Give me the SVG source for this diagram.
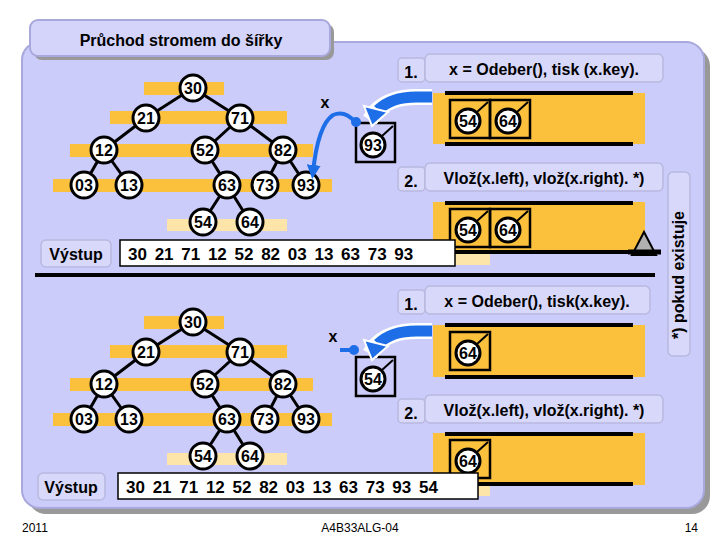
<svg xmlns="http://www.w3.org/2000/svg" width="720" height="540" viewBox="0 0 720 540">
<style>
.n circle{fill:#fff;stroke:#000;stroke-width:3}
.n text{font-family:"Liberation Sans Narrow","Liberation Sans",sans-serif;font-weight:bold;text-anchor:middle;font-size:16px}
.bar{fill:#fbc03c}
.bar2{fill:#fde4a8}
.e{stroke:#000;stroke-width:3}
.lbl{fill:#d8d8fb;stroke:#b8b8e0;stroke-width:1.5}
.lt{font-family:"Liberation Sans",Arial,sans-serif;font-weight:bold;font-size:16px}
.ql{stroke:#000;stroke-width:4}
.qb{fill:none;stroke:#000;stroke-width:2.5}
.tk{stroke:#000;stroke-width:2}
.out{fill:#fff;stroke:#000;stroke-width:1.5}
.ot{font-family:"Liberation Sans Narrow","Liberation Sans",sans-serif;font-weight:bold;font-size:17px;word-spacing:3px}
.blue{fill:none;stroke:#1e6ee8;stroke-width:4}
.foot{font-family:"Liberation Sans",Arial,sans-serif;font-size:12px}
</style>
<defs>
<marker id="ah" markerWidth="14" markerHeight="14" refX="7" refY="7" orient="auto" markerUnits="userSpaceOnUse"><path d="M0,0 L14,7 L0,14 z" fill="#1e6ee8"/></marker>
<g id="tree">
<rect class="bar" x="144" y="82" width="80" height="13"/>
<rect class="bar" x="110" y="111" width="177" height="13"/>
<rect class="bar" x="70" y="144" width="243" height="13"/>
<rect class="bar" x="53" y="179" width="279" height="13"/>
<rect class="bar2" x="167" y="219" width="120" height="12"/>
<g class="e"><line x1="193" y1="88" x2="146" y2="118"/><line x1="193" y1="88" x2="240" y2="118"/><line x1="146" y1="118" x2="104" y2="150"/><line x1="240" y1="118" x2="205" y2="150"/><line x1="240" y1="118" x2="283" y2="150"/><line x1="104" y1="150" x2="84" y2="185"/><line x1="104" y1="150" x2="129" y2="185"/><line x1="205" y1="150" x2="227" y2="185"/><line x1="283" y1="150" x2="265" y2="185"/><line x1="283" y1="150" x2="306" y2="185"/><line x1="227" y1="185" x2="203" y2="222"/><line x1="227" y1="185" x2="250" y2="222"/></g>
</g>
</defs>
<rect x="28" y="48" width="682" height="466" rx="18" fill="#999"/>
<rect x="22" y="42" width="682" height="466" rx="18" fill="#ccccfa" stroke="#a8a8dd" stroke-width="2"/>
<rect x="34" y="24" width="300" height="36" rx="8" fill="#999"/>
<rect x="30" y="20" width="300" height="36" rx="8" fill="#d4d4fb" stroke="#a8a8dd" stroke-width="2"/>
<text class="lt" x="181" y="46" text-anchor="middle" font-size="20">Průchod stromem do šířky</text>

<g id="tree-top"><use href="#tree"/></g>
<g id="tree-bottom" transform="translate(0,234)"><use href="#tree"/></g>
<g id="nodes">
<g class="n" id="n-top">
<circle cx="193" cy="88" r="13"/><text x="193" y="94">30</text>
<circle cx="146" cy="118" r="13"/><text x="146" y="124">21</text>
<circle cx="240" cy="118" r="13"/><text x="240" y="124">71</text>
<circle cx="104" cy="150" r="13"/><text x="104" y="156">12</text>
<circle cx="205" cy="150" r="13"/><text x="205" y="156">52</text>
<circle cx="283" cy="150" r="13"/><text x="283" y="156">82</text>
<circle cx="84" cy="185" r="13"/><text x="84" y="191">03</text>
<circle cx="129" cy="185" r="13"/><text x="129" y="191">13</text>
<circle cx="227" cy="185" r="13"/><text x="227" y="191">63</text>
<circle cx="265" cy="185" r="13"/><text x="265" y="191">73</text>
<circle cx="306" cy="185" r="13"/><text x="306" y="191">93</text>
<circle cx="203" cy="222" r="13"/><text x="203" y="228">54</text>
<circle cx="250" cy="222" r="13"/><text x="250" y="228">64</text>
</g>
<g class="n" id="n-bottom" transform="translate(0,234)">
<circle cx="193" cy="88" r="13"/><text x="193" y="94">30</text>
<circle cx="146" cy="118" r="13"/><text x="146" y="124">21</text>
<circle cx="240" cy="118" r="13"/><text x="240" y="124">71</text>
<circle cx="104" cy="150" r="13"/><text x="104" y="156">12</text>
<circle cx="205" cy="150" r="13"/><text x="205" y="156">52</text>
<circle cx="283" cy="150" r="13"/><text x="283" y="156">82</text>
<circle cx="84" cy="185" r="13"/><text x="84" y="191">03</text>
<circle cx="129" cy="185" r="13"/><text x="129" y="191">13</text>
<circle cx="227" cy="185" r="13"/><text x="227" y="191">63</text>
<circle cx="265" cy="185" r="13"/><text x="265" y="191">73</text>
<circle cx="306" cy="185" r="13"/><text x="306" y="191">93</text>
<circle cx="203" cy="222" r="13"/><text x="203" y="228">54</text>
<circle cx="250" cy="222" r="13"/><text x="250" y="228">64</text>
</g>
</g>

<g id="queues">
<rect class="bar" x="433" y="93" width="212" height="51"/>
<line class="ql" x1="445" y1="93" x2="633" y2="93"/><line class="ql" x1="445" y1="144" x2="633" y2="144"/>
<rect class="bar" x="433" y="202" width="212" height="50"/>
<rect class="bar2" x="445" y="252" width="45" height="13"/>
<line class="ql" x1="445" y1="203" x2="633" y2="203"/><line class="ql" x1="445" y1="252" x2="660" y2="252"/>
<path d="M632,255 L644,232 L656,255 Z" fill="#b0b0b0" stroke="#000" stroke-width="2"/>
<line x1="628" y1="252" x2="661" y2="252" stroke="#000" stroke-width="5"/>
<rect class="bar" x="433" y="325" width="212" height="52"/>
<line class="ql" x1="445" y1="325" x2="633" y2="325"/><line class="ql" x1="445" y1="377" x2="633" y2="377"/>
<rect class="bar" x="433" y="433" width="212" height="52"/>
<rect class="bar2" x="450" y="484" width="40" height="12"/>
<line class="ql" x1="445" y1="434" x2="633" y2="434"/><line class="ql" x1="445" y1="484" x2="633" y2="484"/>
<line x1="35" y1="275" x2="655" y2="275" stroke="#000" stroke-width="4"/>
</g>

<g id="queue-items" class="n">
<rect class="qb" x="450" y="100" width="40" height="38"/><circle cx="468" cy="121" r="12"/><line class="tk" x1="477" y1="112" x2="488" y2="102"/><text x="468" y="127">54</text>
<rect class="qb" x="490" y="100" width="40" height="38"/><circle cx="508" cy="121" r="12"/><line class="tk" x1="517" y1="112" x2="528" y2="102"/><text x="508" y="127">64</text>
<rect class="qb" x="450" y="209" width="40" height="38"/><circle cx="468" cy="230" r="12"/><line class="tk" x1="477" y1="221" x2="488" y2="211"/><text x="468" y="236">54</text>
<rect class="qb" x="490" y="209" width="40" height="38"/><circle cx="508" cy="230" r="12"/><line class="tk" x1="517" y1="221" x2="528" y2="211"/><text x="508" y="236">64</text>
<rect class="qb" x="450" y="332" width="40" height="38"/><circle cx="468" cy="353" r="12"/><line class="tk" x1="477" y1="344" x2="488" y2="334"/><text x="468" y="359">64</text>
<rect class="qb" x="450" y="440" width="40" height="38"/><circle cx="468" cy="461" r="12"/><line class="tk" x1="477" y1="452" x2="488" y2="442"/><text x="468" y="467">64</text>
</g>

<g id="x-nodes" class="n">
<rect class="qb" x="356" y="123" width="39" height="39"/><circle cx="373" cy="145" r="12"/><line class="tk" x1="382" y1="136" x2="393" y2="126"/><text x="373" y="151">93</text>
<rect class="qb" x="356" y="357" width="39" height="39"/><circle cx="373" cy="379" r="12"/><line class="tk" x1="382" y1="370" x2="393" y2="360"/><text x="373" y="385">54</text>
</g>

<g id="connectors">
<path d="M432,97 L420,97 Q390,96 375,112 L370,120" fill="none" stroke="#fff" stroke-width="16"/>
<path d="M432,97 L420,97 Q392,96 378,110" fill="none" stroke="#1e6ee8" stroke-width="11"/>
<path d="M364,106 L372,126 L388,112 Z" fill="#1e6ee8" stroke="#fff" stroke-width="2"/>
<path d="M355,122 Q345,110 333,115 Q318,125 313,172" class="blue" marker-end="url(#ah)"/>
<circle cx="356" cy="122" r="5" fill="#1e6ee8"/>
<text class="lt" x="325" y="108" text-anchor="middle">x</text>
<path d="M432,331 L420,331 Q390,330 375,346 L370,354" fill="none" stroke="#fff" stroke-width="16"/>
<path d="M432,331 L420,331 Q392,330 378,344" fill="none" stroke="#1e6ee8" stroke-width="11"/>
<path d="M364,340 L372,360 L388,346 Z" fill="#1e6ee8" stroke="#fff" stroke-width="2"/>
<line x1="340" y1="350" x2="353" y2="350" class="blue"/>
<circle cx="354" cy="350" r="5" fill="#1e6ee8"/>
<text class="lt" x="333" y="342" text-anchor="middle">x</text>
</g>

<g id="labels">
<rect class="lbl" x="398" y="58" width="27" height="24" rx="4"/><text class="lt" x="411" y="78" text-anchor="middle">1.</text>
<rect class="lbl" x="425" y="54" width="238" height="28" rx="5"/><text class="lt" x="544" y="75" text-anchor="middle">x = Odeber(), tisk (x.key).</text>
<rect class="lbl" x="398" y="167" width="27" height="24" rx="4"/><text class="lt" x="411" y="187" text-anchor="middle">2.</text>
<rect class="lbl" x="425" y="163" width="238" height="28" rx="5"/><text class="lt" x="544" y="184" text-anchor="middle">Vlož(x.left), vlož(x.right). *)</text>
<rect class="lbl" x="398" y="290" width="27" height="24" rx="4"/><text class="lt" x="411" y="310" text-anchor="middle">1.</text>
<rect class="lbl" x="425" y="286" width="225" height="28" rx="5"/><text class="lt" x="537" y="307" text-anchor="middle">x = Odeber(), tisk(x.key).</text>
<rect class="lbl" x="398" y="399" width="27" height="24" rx="4"/><text class="lt" x="411" y="419" text-anchor="middle">2.</text>
<rect class="lbl" x="425" y="395" width="238" height="28" rx="5"/><text class="lt" x="544" y="416" text-anchor="middle">Vlož(x.left), vlož(x.right). *)</text>
<rect class="lbl" x="668" y="172" width="22" height="184" rx="5"/>
<text class="lt" font-size="13" text-anchor="middle" transform="translate(684,275) rotate(-90)">*) pokud existuje</text>
</g>

<g id="output">
<rect class="lbl" x="41" y="240" width="70" height="27" rx="5"/><text class="lt" x="76" y="260" text-anchor="middle" font-size="17">Výstup</text>
<rect class="out" x="120" y="240" width="335" height="26"/>
<text class="ot" x="128" y="260">30 21 71 12 52 82 03 13 63 73 93</text>
<rect class="lbl" x="38" y="473" width="67" height="27" rx="5"/><text class="lt" x="71" y="493" text-anchor="middle" font-size="17">Výstup</text>
<rect class="out" x="118" y="473" width="360" height="26"/>
<text class="ot" x="126" y="493">30 21 71 12 52 82 03 13 63 73 93 54</text>
</g>
<text class="foot" x="22" y="532">2011</text>
<text class="foot" x="360" y="532" text-anchor="middle">A4B33ALG-04</text>
<text class="foot" x="698" y="532" text-anchor="end">14</text>
</svg>
